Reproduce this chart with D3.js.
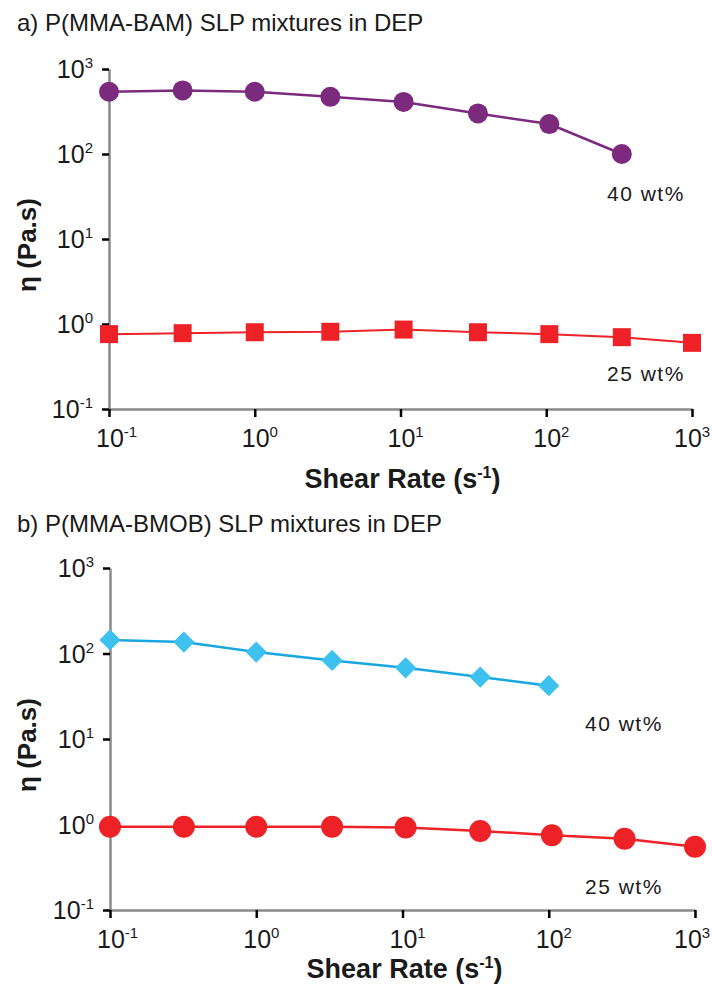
<!DOCTYPE html>
<html>
<head>
<meta charset="utf-8">
<script src="https://cdn.jsdelivr.net/npm/d3@7"></script>
<style>
  body { margin: 0; background: #fff; }
  svg { display: block; }
</style>
</head>
<body>
<script>
// decade ticks shared by both axes of both panels
const tickValues = [0.1, 1, 10, 100, 1000];
const tickExponents = ["-1", "0", "1", "2", "3"];

// panel a) P(MMA-BAM) SLP mixtures in DEP
const rateA40 = [0.1, 0.32, 1.0, 3.3, 10.5, 34, 105, 330];
const etaA40 = [540, 560, 540, 470, 410, 300, 225, 100];
const rateA25 = [0.1, 0.32, 1.0, 3.3, 10.5, 34, 105, 330, 1000];
const etaA25 = [0.76, 0.78, 0.80, 0.81, 0.86, 0.80, 0.76, 0.70, 0.60];

// panel b) P(MMA-BMOB) SLP mixtures in DEP
const rateB40 = [0.1, 0.32, 1.0, 3.3, 10.5, 34, 100];
const etaB40 = [144, 136, 104, 83, 68, 53, 42];
const rateB25 = [0.1, 0.32, 1.0, 3.3, 10.5, 34, 105, 330, 1000];
const etaB25 = [0.94, 0.94, 0.94, 0.94, 0.92, 0.84, 0.75, 0.68, 0.55];

const width = 712, height = 992;
const font = "'Liberation Sans', Arial, Helvetica, sans-serif";

const svg = d3.select("body").append("svg")
    .attr("width", width)
    .attr("height", height)
    .style("font-family", font);

function drawPanel(p) {
    const x = d3.scaleLog().domain([0.1, 1000]).range([p.left, p.right]);
    const y = d3.scaleLog().domain([0.1, 1000]).range([p.bottom, p.top]);

    svg.append("text")
        .attr("x", 17)
        .attr("y", p.titleY)
        .attr("font-size", 24)
        .attr("fill", "#1a1a1a")
        .text(p.title);

    // axes: grey spine, black outward ticks, 10^n labels
    const yAxis = svg.append("g")
        .attr("transform", `translate(${p.left},0)`)
        .call(d3.axisLeft(y).tickValues(tickValues).tickFormat("").tickSize(7).tickSizeOuter(0));
    const xAxis = svg.append("g")
        .attr("transform", `translate(0,${p.bottom})`)
        .call(d3.axisBottom(x).tickValues(tickValues).tickFormat("").tickSize(8).tickSizeOuter(0));

    [xAxis, yAxis].forEach(g => {
        g.select(".domain").attr("stroke", "#8a8a8a").attr("stroke-width", 2.5);
        g.selectAll(".tick line").attr("stroke", "#000").attr("stroke-width", 2.5);
    });

    tickValues.forEach((v, i) => {
        const ty = svg.append("text")
            .attr("x", p.left - 16)
            .attr("y", y(v) + 9)
            .attr("text-anchor", "end")
            .attr("font-size", 25)
            .attr("fill", "#1a1a1a");
        ty.append("tspan").text("10");
        ty.append("tspan").attr("dy", -10).attr("font-size", 15).text(tickExponents[i]);

        // last label is pulled in so it stays inside the page
        const tx = svg.append("text")
            .attr("x", Math.min(x(v) - 13, width - 38))
            .attr("y", p.bottom + 38)
            .attr("font-size", 25)
            .attr("fill", "#1a1a1a");
        tx.append("tspan").text("10");
        tx.append("tspan").attr("dy", -10).attr("font-size", 15).text(tickExponents[i]);
    });

    // axis titles
    const xl = svg.append("text")
        .attr("x", (p.left + p.right) / 2 + 2)
        .attr("y", p.xTitleY)
        .attr("text-anchor", "middle")
        .attr("font-size", 27)
        .attr("font-weight", "bold")
        .attr("fill", "#1a1a1a");
    xl.append("tspan").text("Shear Rate (s");
    xl.append("tspan").attr("dy", -10).attr("font-size", 16).text("-1");
    xl.append("tspan").attr("dy", 10).text(")");

    svg.append("text")
        .attr("transform", `translate(36,${(p.top + p.bottom) / 2 + 6}) rotate(-90)`)
        .attr("text-anchor", "middle")
        .attr("font-size", 26)
        .attr("font-weight", "bold")
        .attr("fill", "#1a1a1a")
        .text("η (Pa.s)");

    const line = d3.line().x(d => x(d[0])).y(d => y(d[1]));

    p.series.forEach(s => {
        const pts = d3.zip(s.rate, s.eta);
        svg.append("path")
            .datum(pts)
            .attr("fill", "none")
            .attr("stroke", s.lineColour)
            .attr("stroke-width", s.lineWidth)
            .attr("d", line);

        svg.append("g").selectAll("path")
            .data(pts)
            .join("path")
            .attr("fill", s.fill)
            .attr("transform", d => `translate(${x(d[0])},${y(d[1])}) rotate(${s.rotate || 0})`)
            .attr("d", d3.symbol().type(s.symbol).size(s.size));

        svg.append("text")
            .attr("x", s.labelX)
            .attr("y", s.labelY)
            .attr("font-size", 21)
            .attr("letter-spacing", 1.5)
            .attr("fill", "#1a1a1a")
            .text(s.label);
    });
}

drawPanel({
    title: "a) P(MMA-BAM) SLP mixtures in DEP",
    titleY: 31,
    xTitleY: 488,
    left: 109, right: 692, top: 69, bottom: 409,
    series: [
        { rate: rateA25, eta: etaA25, lineColour: "#ee2329", lineWidth: 2, fill: "#ee2126",
          symbol: d3.symbolSquare, size: 324, label: "25 wt%", labelX: 607, labelY: 381 },
        { rate: rateA40, eta: etaA40, lineColour: "#7b2a7e", lineWidth: 2.5, fill: "#7b2a7e",
          symbol: d3.symbolCircle, size: Math.PI * 100, label: "40 wt%", labelX: 607, labelY: 201 }
    ]
});

drawPanel({
    title: "b) P(MMA-BMOB) SLP mixtures in DEP",
    titleY: 532,
    xTitleY: 978,
    left: 110, right: 695, top: 568, bottom: 910,
    series: [
        { rate: rateB25, eta: etaB25, lineColour: "#ee2329", lineWidth: 2.5, fill: "#ee2126",
          symbol: d3.symbolCircle, size: Math.PI * 121, label: "25 wt%", labelX: 585, labelY: 894 },
        { rate: rateB40, eta: etaB40, lineColour: "#1aa7e0", lineWidth: 2.5, fill: "#3dc1ef",
          symbol: d3.symbolSquare, size: 225, rotate: 45, label: "40 wt%", labelX: 585, labelY: 731 }
    ]
});
</script>
</body>
</html>
